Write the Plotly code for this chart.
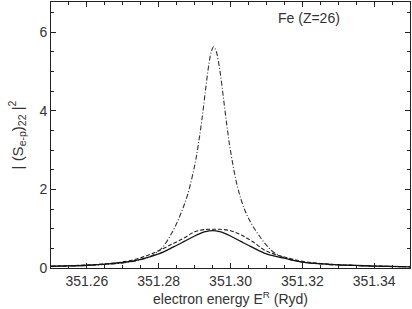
import plotly.graph_objects as go

# energies (Ryd)
x_dd = [351.25, 351.255, 351.26, 351.265, 351.27, 351.275, 351.278, 351.281, 351.284,
        351.286, 351.288, 351.29, 351.291, 351.292, 351.293, 351.294, 351.2947, 351.2953,
        351.296, 351.297, 351.298, 351.299, 351.300, 351.302, 351.304, 351.306, 351.308,
        351.310, 351.312, 351.315, 351.32, 351.325, 351.33, 351.335, 351.34, 351.345, 351.35]
y_dd = [0.04, 0.05, 0.065, 0.09, 0.13, 0.21, 0.31, 0.52, 0.95,
        1.35, 1.85, 2.60, 3.12, 3.75, 4.50, 5.20, 5.52, 5.63,
        5.52, 5.05, 4.35, 3.62, 2.98, 2.05, 1.47, 1.10, 0.82,
        0.58, 0.40, 0.26, 0.15, 0.10, 0.075, 0.06, 0.045, 0.035, 0.03]

x_sd = [351.25, 351.255, 351.26, 351.265, 351.27, 351.275, 351.28, 351.284, 351.287,
        351.29, 351.293, 351.295, 351.297, 351.30, 351.303, 351.306, 351.31, 351.315,
        351.32, 351.325, 351.33, 351.335, 351.34, 351.345, 351.35]
y_solid = [0.045, 0.055, 0.07, 0.10, 0.14, 0.22, 0.36, 0.53, 0.67,
           0.815, 0.925, 0.95, 0.925, 0.815, 0.67, 0.53, 0.36, 0.25,
           0.15, 0.11, 0.08, 0.065, 0.05, 0.04, 0.03]
y_dash = [0.045, 0.06, 0.075, 0.105, 0.155, 0.26, 0.44, 0.62, 0.76,
          0.92, 0.98, 0.985, 0.985, 0.95, 0.84, 0.68, 0.43, 0.28,
          0.17, 0.115, 0.085, 0.065, 0.05, 0.04, 0.03]

x_ticks = [351.26, 351.28, 351.30, 351.32, 351.34]
x_ticklabels = ["351.26", "351.28", "351.30", "351.32", "351.34"]
y_ticks = [0, 2, 4, 6]

fig = go.Figure()
fig.add_trace(go.Scatter(x=x_dd, y=y_dd, mode="lines", line=dict(color="#333", width=1.1, dash="5px,2px,1px,2px"), line_shape="spline"))
fig.add_trace(go.Scatter(x=x_sd, y=y_dash, mode="lines", line=dict(color="#222", width=1.1, dash="4px,2px"), line_shape="spline"))
fig.add_trace(go.Scatter(x=x_sd, y=y_solid, mode="lines", line=dict(color="#111", width=1.3), line_shape="spline"))

font = dict(family="Liberation Sans, Arial, sans-serif", size=14, color="#333")
title_font = dict(family="Liberation Sans, Arial, sans-serif", size=15, color="#333")
axis_common = dict(showline=True, linecolor="#222", linewidth=1, mirror="ticks",
                   ticks="inside", tickcolor="#222", ticklen=5, tickwidth=1,
                   showgrid=False, zeroline=False, tickfont=font)
fig.update_xaxes(range=[351.25, 351.35], tickvals=x_ticks, ticktext=x_ticklabels,
                 minor=dict(dtick=0.005, tick0=351.25, ticks="inside", ticklen=3, tickcolor="#222"),
                 title=dict(text="electron energy E<sup>R</sup> (Ryd)", font=font, standoff=3),
                 **axis_common)
fig.update_yaxes(range=[0, 6.77], tickvals=y_ticks,
                 minor=dict(dtick=0.5, tick0=0, ticks="inside", ticklen=3, tickcolor="#222"),
                 title=dict(text="| (S<sub>e-p</sub>)<sub>22</sub> |<sup>2</sup>", font=title_font, standoff=12),
                 **axis_common)
fig.add_annotation(x=351.322, y=6.36, xref="x", yref="y", text="Fe (Z=26)",
                   showarrow=False, font=font, xanchor="center", yanchor="middle")
fig.update_layout(width=412, height=309, margin=dict(l=51, r=2, t=2, b=41),
                  plot_bgcolor="white", paper_bgcolor="white", showlegend=False)
fig.write_html("out.html", config={"displayModeBar": False},
               post_script="document.body.style.margin='0';document.body.style.overflow='hidden';")
